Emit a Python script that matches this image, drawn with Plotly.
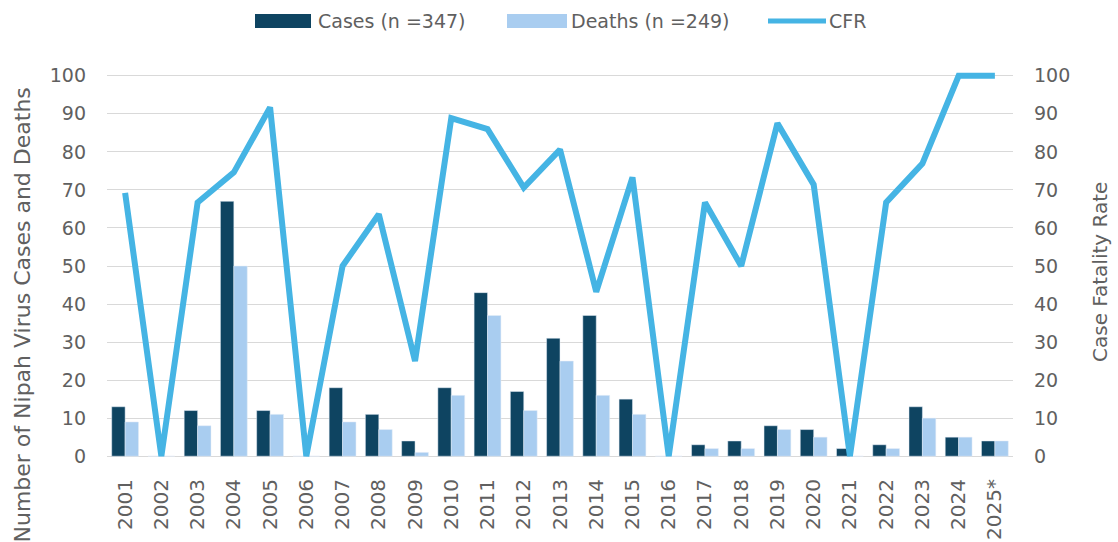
import plotly.graph_objects as go

years = ["2001", "2002", "2003", "2004", "2005", "2006", "2007", "2008", "2009", "2010",
         "2011", "2012", "2013", "2014", "2015", "2016", "2017", "2018", "2019", "2020",
         "2021", "2022", "2023", "2024", "2025*"]
cases = [13, 0, 12, 67, 12, 0, 18, 11, 4, 18, 43, 17, 31, 37, 15, 0, 3, 4, 8, 7, 2, 3, 13, 5, 4]
deaths = [9, 0, 8, 50, 11, 0, 9, 7, 1, 16, 37, 12, 25, 16, 11, 0, 2, 2, 7, 5, 0, 2, 10, 5, 4]
cfr = [69.2, 0, 66.7, 74.6, 91.7, 0, 50.0, 63.6, 25.0, 88.9, 86.0, 70.6, 80.6, 43.2, 73.3,
       0, 66.7, 50.0, 87.5, 71.4, 0, 66.7, 76.9, 100, 100]

legend_labels = ["Cases (n =347)", "Deaths (n =249)", "CFR"]
y_ticks = [0, 10, 20, 30, 40, 50, 60, 70, 80, 90, 100]

C_CASES = "#0e4461"
C_DEATHS = "#a9cdf0"
C_CFR = "#45b4e4"
GRAY = "#606060"
FONT = "DejaVu Sans"

W, H = 1118, 542
L, R, T, B = 107, 105, 72, 82
PW, PH = W - L - R, H - T - B


def px(x):
    return (x - L) / PW


def py(y):
    return (H - B - y) / PH


fig = go.Figure()
fig.add_trace(go.Bar(x=years, y=cases, name=legend_labels[0], marker_color=C_CASES, yaxis="y"))
fig.add_trace(go.Bar(x=years, y=deaths, name=legend_labels[1], marker_color=C_DEATHS, yaxis="y"))
fig.add_trace(go.Scatter(x=years, y=cfr, name=legend_labels[2], mode="lines",
                         line=dict(color=C_CFR, width=6), yaxis="y2"))

shapes = [
    dict(type="rect", xref="paper", yref="paper", x0=px(255), x1=px(311), y0=py(28), y1=py(14),
         fillcolor=C_CASES, line_width=0),
    dict(type="rect", xref="paper", yref="paper", x0=px(507), x1=px(567), y0=py(28), y1=py(14),
         fillcolor=C_DEATHS, line_width=0),
    dict(type="line", xref="paper", yref="paper", x0=px(768), x1=px(826), y0=py(21), y1=py(21),
         line=dict(color=C_CFR, width=5)),
]

annotations = [
    dict(text=legend_labels[0], x=px(316), y=py(21), xref="paper", yref="paper",
         xanchor="left", yanchor="middle", showarrow=False, font=dict(size=19, color=GRAY, family=FONT)),
    dict(text=legend_labels[1], x=px(569), y=py(21), xref="paper", yref="paper",
         xanchor="left", yanchor="middle", showarrow=False, font=dict(size=19, color=GRAY, family=FONT)),
    dict(text=legend_labels[2], x=px(827), y=py(21), xref="paper", yref="paper",
         xanchor="left", yanchor="middle", showarrow=False, font=dict(size=19, color=GRAY, family=FONT)),
    dict(text="Number of Nipah Virus Cases and Deaths", x=px(22), y=py(86), xref="paper", yref="paper",
         xanchor="center", yanchor="top", textangle=-90, showarrow=False,
         font=dict(size=22, color=GRAY, family=FONT)),
    dict(text="Case Fatality Rate", x=px(1100), y=py(272), xref="paper", yref="paper",
         xanchor="center", yanchor="middle", textangle=-90, showarrow=False,
         font=dict(size=20, color=GRAY, family=FONT)),
]

fig.update_layout(
    width=W, height=H,
    margin=dict(l=L, r=R, t=T, b=B, pad=0, autoexpand=False),
    paper_bgcolor="white", plot_bgcolor="white",
    barmode="group", bargap=0.26, bargroupgap=0,
    showlegend=False,
    font=dict(family=FONT, color=GRAY, size=19),
    shapes=shapes,
    annotations=annotations,
    xaxis=dict(type="category", tickangle=-90, showgrid=False, showline=False, ticks="",
               automargin=False,
               tickfont=dict(size=20, color=GRAY, family=FONT), ticklabelstandoff=14),
    yaxis=dict(range=[-1, 101], tickvals=y_ticks, showgrid=True, gridcolor="#d9d9d9", gridwidth=1,
               zeroline=False, showline=False, ticks="", ticklabelstandoff=20, automargin=False,
               tickfont=dict(size=19, color=GRAY, family=FONT)),
    yaxis2=dict(range=[-1, 101], tickvals=y_ticks, overlaying="y", side="right", showgrid=False,
                zeroline=False, showline=False, ticks="", ticklabelstandoff=20, automargin=False,
                tickfont=dict(size=19, color=GRAY, family=FONT)),
)

fig.write_html("out.html")
